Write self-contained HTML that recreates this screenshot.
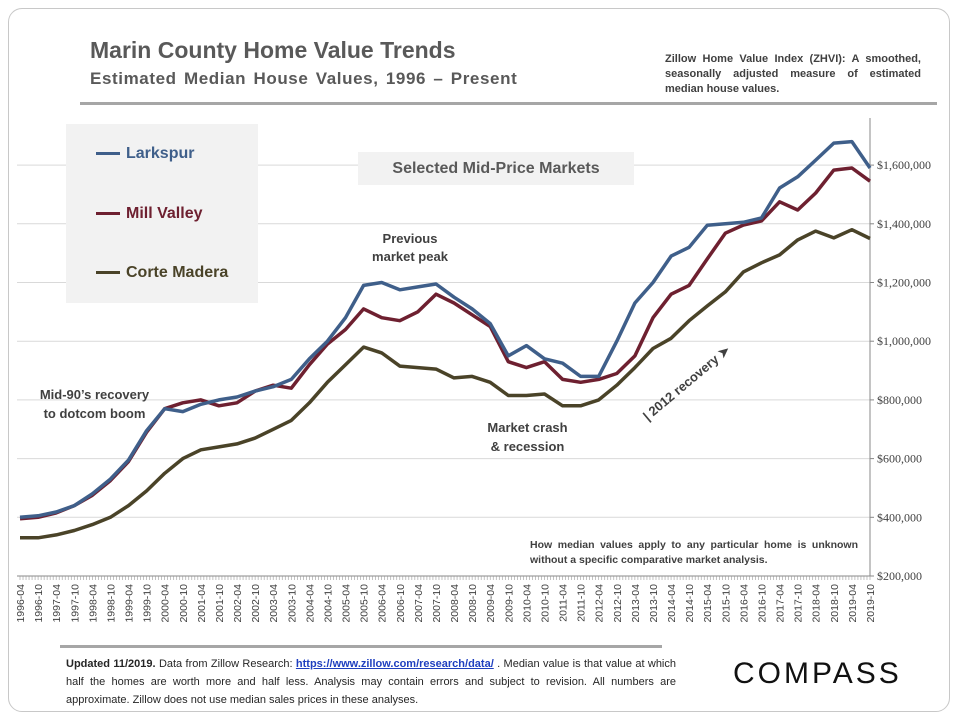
<!DOCTYPE html>
<html><head><meta charset="utf-8">
<style>
body{margin:0;width:960px;height:720px;background:#fff;font-family:"Liberation Sans",sans-serif;overflow:hidden;position:relative}
.card{position:absolute;left:8px;top:8px;width:940px;height:702px;border:1px solid #c8c8c8;border-radius:14px}
.abs{position:absolute}
</style></head><body>
<div class="card"></div>
<div class="abs" style="left:90px;top:37px;font-size:23px;font-weight:bold;color:#595959">Marin County Home Value Trends</div>
<div class="abs" style="left:90px;top:69px;font-size:17px;font-weight:bold;color:#595959;letter-spacing:0.6px;word-spacing:2px">Estimated Median House Values, 1996 – Present</div>
<div class="abs" style="left:665px;top:52px;width:256px;font-size:11px;font-weight:bold;color:#404040;text-align:justify;line-height:15px">Zillow Home Value Index (ZHVI): A smoothed, seasonally adjusted measure of estimated median house values.</div>
<div class="abs" style="left:80px;top:102px;width:857px;height:3px;background:#a6a6a6"></div>
<svg class="abs" style="left:0;top:0" width="960" height="720" id="chart"></svg>
<div class="abs" style="left:66px;top:124px;width:192px;height:179px;background:#f2f2f2"></div>
<div class="abs" style="left:96px;top:145px;font-size:16px;font-weight:bold;color:#3f5f8a"><span style="display:inline-block;width:24px;height:3px;background:#3f5f8a;vertical-align:middle;margin-right:6px"></span>Larkspur</div>
<div class="abs" style="left:96px;top:205px;font-size:16px;font-weight:bold;color:#6e2030"><span style="display:inline-block;width:24px;height:3px;background:#6e2030;vertical-align:middle;margin-right:6px"></span>Mill Valley</div>
<div class="abs" style="left:96px;top:264px;font-size:16px;font-weight:bold;color:#4a4328"><span style="display:inline-block;width:24px;height:3px;background:#4a4328;vertical-align:middle;margin-right:6px"></span>Corte Madera</div>
<div class="abs" style="left:358px;top:152px;width:276px;height:33px;background:#f2f2f2;font-size:16px;font-weight:bold;color:#595959;text-align:center;line-height:33px">Selected Mid-Price Markets</div>
<div class="abs" style="left:360px;top:230px;width:100px;text-align:center;font-size:13px;font-weight:bold;color:#404040;line-height:18px">Previous<br>market peak</div>
<div class="abs" style="left:22px;top:385px;width:145px;text-align:center;font-size:13px;font-weight:bold;color:#404040;line-height:19px">Mid-90’s recovery<br>to dotcom boom</div>
<div class="abs" style="left:460px;top:418px;width:135px;text-align:center;font-size:13px;font-weight:bold;color:#404040;line-height:19px">Market crash<br>&amp; recession</div>
<div class="abs" style="left:640px;top:412px;font-size:13px;font-weight:bold;color:#404040;transform:rotate(-40deg);transform-origin:left top;white-space:nowrap">| 2012 recovery ➤</div>
<div class="abs" style="left:530px;top:538px;width:328px;font-size:10.5px;font-weight:bold;color:#404040;text-align:justify;line-height:15px;background:#fff">How median values apply to any particular home is unknown without a specific comparative market analysis.</div>
<div class="abs" style="left:60px;top:645px;width:602px;height:3px;background:#a6a6a6"></div>
<div class="abs" style="left:66px;top:655px;width:610px;font-size:11px;color:#262626;line-height:18px;text-align:justify"><b>Updated 11/2019.</b> Data from Zillow Research: <span style="color:#1f3fbf;text-decoration:underline;font-weight:bold">https://www.zillow.com/research/data/</span> . Median value is that value at which half the homes are worth more and half less. Analysis may contain errors and subject to revision. All numbers are approximate. Zillow does not use median sales prices in these analyses.</div>
<div class="abs" style="left:733px;top:657px;font-size:30px;letter-spacing:3px;color:#111">COMPASS</div>
<script>
const labels=[];for(let y=1996;y<=2019;y++){labels.push(y+"-04");labels.push(y+"-10");}
const larkspur=[400,405,418,440,480,530,595,695,770,760,785,800,810,830,845,870,940,1000,1080,1190,1200,1175,1185,1195,1150,1110,1060,950,985,940,925,880,880,1000,1130,1200,1290,1320,1395,1400,1405,1420,1522,1560,1617,1675,1680,1590];
const millValley=[395,400,415,440,475,525,590,690,770,790,800,780,790,830,850,840,920,990,1040,1110,1080,1070,1100,1160,1130,1090,1050,930,910,930,870,860,870,890,950,1080,1160,1190,1280,1368,1396,1410,1475,1447,1505,1583,1590,1545];
const corteMadera=[330,330,340,355,375,400,440,490,550,600,630,640,650,670,700,730,790,860,920,980,960,915,910,905,875,880,860,815,815,820,780,780,800,850,910,975,1010,1070,1120,1168,1236,1267,1294,1345,1375,1352,1380,1350];
const yTicks=[200000,400000,600000,800000,1000000,1200000,1400000,1600000];
const svg=document.getElementById('chart');const NS='http://www.w3.org/2000/svg';
const x=i=>20+i*(850/47);const y=v=>576-(v-200)/200*58.7;
function mk(t,a){const e=document.createElementNS(NS,t);for(const k in a)e.setAttribute(k,a[k]);svg.appendChild(e);return e;}
yTicks.forEach(t=>{const g=mk('line',{x1:17,x2:870,y1:y(t/1000),y2:y(t/1000),stroke:'#d9d9d9','stroke-width':1});


const tx=mk('text',{x:877,y:y(t/1000)+4,'font-size':12,fill:'#404040','font-family':'Liberation Serif, serif'});tx.textContent='$'+t.toLocaleString('en-US');


mk('line',{x1:870,x2:874,y1:y(t/1000),y2:y(t/1000),stroke:'#888'});});
const ax=mk('line',{x1:870,x2:870,y1:118,y2:576,stroke:'#888'});


const xa=mk('line',{x1:17,x2:870,y1:576,y2:576,stroke:'#888'});


for(let m=0;m<=282;m++){mk('line',{x1:20+m*850/282,x2:20+m*850/282,y1:576,y2:580,stroke:'#999','stroke-width':0.6});}
labels.forEach((l,i)=>{const t=mk('text',{x:0,y:0,'font-size':10.5,fill:'#404040',transform:`translate(${x(i)+4},${584}) rotate(-90)`,'text-anchor':'end','font-family':'Liberation Sans, sans-serif'});t.textContent=l;

});
[[corteMadera,'#4a4328','corte-madera-line'],[millValley,'#6e2030','mill-valley-line'],[larkspur,'#3f5f8a','larkspur-line']].forEach(([d,c,n])=>{
const p=mk('path',{d:d.map((v,i)=>(i?'L':'M')+x(i).toFixed(1)+' '+y(v).toFixed(1)).join(''),fill:'none',stroke:c,'stroke-width':3.5,'stroke-linejoin':'round'});

});
</script>
</body></html>
